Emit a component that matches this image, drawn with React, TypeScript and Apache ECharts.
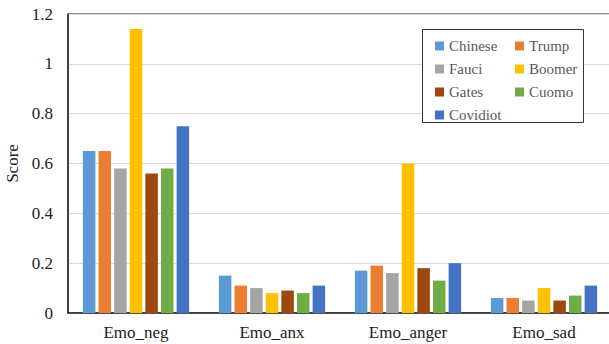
import React, { useEffect, useRef } from "react";
import * as echarts from "echarts";

const categories = ["Emo_neg", "Emo_anx", "Emo_anger", "Emo_sad"];
const seriesNames = ["Chinese", "Trump", "Fauci", "Boomer", "Gates", "Cuomo", "Covidiot"];
const seriesColors = ["#5B9BD5", "#ED7D31", "#A5A5A5", "#FFC000", "#9E480E", "#70AD47", "#4472C4"];

const chinese = [0.65, 0.15, 0.17, 0.06];
const trump = [0.65, 0.11, 0.19, 0.06];
const fauci = [0.58, 0.1, 0.16, 0.05];
const boomer = [1.14, 0.08, 0.6, 0.1];
const gates = [0.56, 0.09, 0.18, 0.05];
const cuomo = [0.58, 0.08, 0.13, 0.07];
const covidiot = [0.75, 0.11, 0.2, 0.11];

const seriesValues = [chinese, trump, fauci, boomer, gates, cuomo, covidiot];

const FONT = "Liberation Serif";

export default function App() {
  const ref = useRef<HTMLDivElement>(null);

  useEffect(() => {
    if (!ref.current) return;
    const chart = echarts.init(ref.current, undefined, { renderer: "svg" });

    const legendCommon = {
      orient: "vertical" as const,
      top: 33,
      itemWidth: 9,
      itemHeight: 9,
      itemGap: 7,
      icon: "rect",
      textStyle: { fontFamily: FONT, fontSize: 15, color: "#595959", lineHeight: 16 },
      z: 5,
    };

    chart.setOption({
      animation: false,
      backgroundColor: "#fff",
      grid: {
        left: 68,
        top: 14,
        right: 0,
        bottom: 31,
        outerBoundsMode: "none",
        containLabel: false,
        show: true,
        borderColor: "#222",
        borderWidth: 1,
      },
      legend: [
        { ...legendCommon, left: 430, data: ["Chinese", "Fauci", "Gates", "Covidiot"] },
        { ...legendCommon, left: 510, data: ["Trump", "Boomer", "Cuomo"] },
      ],
      graphic: [
        {
          type: "rect",
          z: 3,
          shape: { x: 422.5, y: 29.5, width: 161, height: 93 },
          style: { fill: "#fff", stroke: "#333", lineWidth: 1 },
        },
      ],
      xAxis: {
        type: "category",
        data: categories,
        axisLine: { lineStyle: { color: "#222", width: 1.5 } },
        axisTick: { show: false },
        axisLabel: { fontFamily: FONT, fontSize: 17, color: "#222", margin: 11 },
      },
      yAxis: {
        type: "value",
        min: 0,
        max: 1.2,
        interval: 0.2,
        name: "Score",
        nameLocation: "middle",
        nameGap: 45,
        nameTextStyle: { fontFamily: FONT, fontSize: 17, color: "#222" },
        axisLine: { show: true, lineStyle: { color: "#222", width: 1.5 } },
        axisTick: { show: false },
        axisLabel: { fontFamily: FONT, fontSize: 17, color: "#222", margin: 15 },
        splitLine: { lineStyle: { color: "#d9d9d9", width: 1 } },
      },
      series: seriesNames.map((name, i) => ({
        name,
        type: "bar",
        data: seriesValues[i],
        barWidth: 12.5,
        barGap: "25%",
        itemStyle: { color: seriesColors[i] },
      })),
    });

    return () => chart.dispose();
  }, []);

  return (
    <div
      ref={ref}
      style={{ position: "fixed", left: 0, top: 0, width: 612, height: 344 }}
    />
  );
}
